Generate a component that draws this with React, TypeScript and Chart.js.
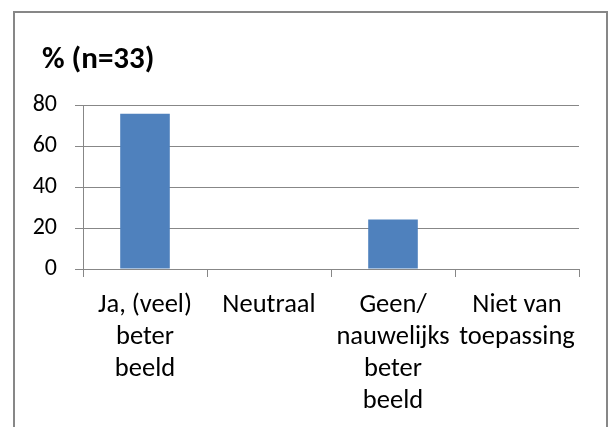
import React, { useEffect, useRef } from "react";
import { Chart, registerables } from "chart.js";

Chart.register(...registerables);

const categories: string[][] = [
  ["Ja, (veel)", "beter", "beeld"],
  ["Neutraal"],
  ["Geen/", "nauwelijks", "beter", "beeld"],
  ["Niet van", "toepassing"],
];
const percentages: number[] = [75.8, 0, 24.2, 0];
const titleText = "% (n=33)";
const yMin = 0;
const yMax = 80;
const yStep = 20;

const FONT = "Carlito, Lato, 'Open Sans', sans-serif";

const frame = {
  id: "frame",
  afterLayout(chart: any) {
    const t = chart.titleBlock;
    if (t) {
      const w = t.right - t.left;
      t.left = 42;
      t.right = 42 + w;
    }
  },
  beforeDraw(chart: any) {
    const ctx = chart.ctx;
    ctx.save();
    ctx.fillStyle = "#ffffff";
    ctx.fillRect(0, 0, chart.width, chart.height);
    ctx.strokeStyle = "#878787";
    ctx.lineWidth = 2;
    ctx.strokeRect(14, 12, 593, 520);
    ctx.restore();
  },
};

export default function App() {
  const ref = useRef<HTMLCanvasElement | null>(null);
  useEffect(() => {
    if (!ref.current) return;
    const chart = new Chart(ref.current, {
      type: "bar",
      data: {
        labels: categories,
        datasets: [
          {
            data: percentages,
            backgroundColor: "#4F81BD",
            borderWidth: 0,
            categoryPercentage: 1,
            barPercentage: 0.4,
          },
        ],
      },
      options: {
        responsive: false,
        animation: false,
        devicePixelRatio: 1,
        layout: { padding: { left: 10, right: 31, top: 42, bottom: 0 } },
        plugins: {
          legend: { display: false },
          tooltip: { enabled: false },
          title: {
            display: true,
            text: titleText,
            align: "start",
            color: "#000",
            font: { family: FONT, size: 31, weight: "bold", lineHeight: 1.2 },
            padding: { top: 0, bottom: 26 },
          },
        },
        scales: {
          x: {
            grid: {
              display: true,
              drawOnChartArea: false,
              drawTicks: true,
              tickLength: 8,
              color: "#878787",
              offset: true,
            },
            border: { display: true, color: "#878787", width: 1 },
            ticks: {
              color: "#000",
              font: { family: FONT, size: 26.5, lineHeight: 1.21 },
              padding: 12,
              maxRotation: 0,
              autoSkip: false,
            },
            afterFit(scale: any) {
              scale.height = 158;
            },
          },
          y: {
            min: yMin,
            max: yMax,
            ticks: {
              stepSize: yStep,
              color: "#000",
              font: { family: FONT, size: 24 },
              padding: 18,
            },
            grid: {
              color: "#878787",
              tickLength: 8,
              lineWidth: 1,
            },
            border: { display: true, color: "#878787", width: 1 },
            afterFit(scale: any) {
              scale.width = 73;
            },
          },
        },
      },
      plugins: [frame],
    });
    return () => chart.destroy();
  }, []);
  return (
    <div style={{ position: "fixed", left: 0, top: 0, width: 610, height: 427, overflow: "hidden", background: "#fff" }}>
      <canvas ref={ref} width={610} height={427} style={{ display: "block" }} />
    </div>
  );
}
